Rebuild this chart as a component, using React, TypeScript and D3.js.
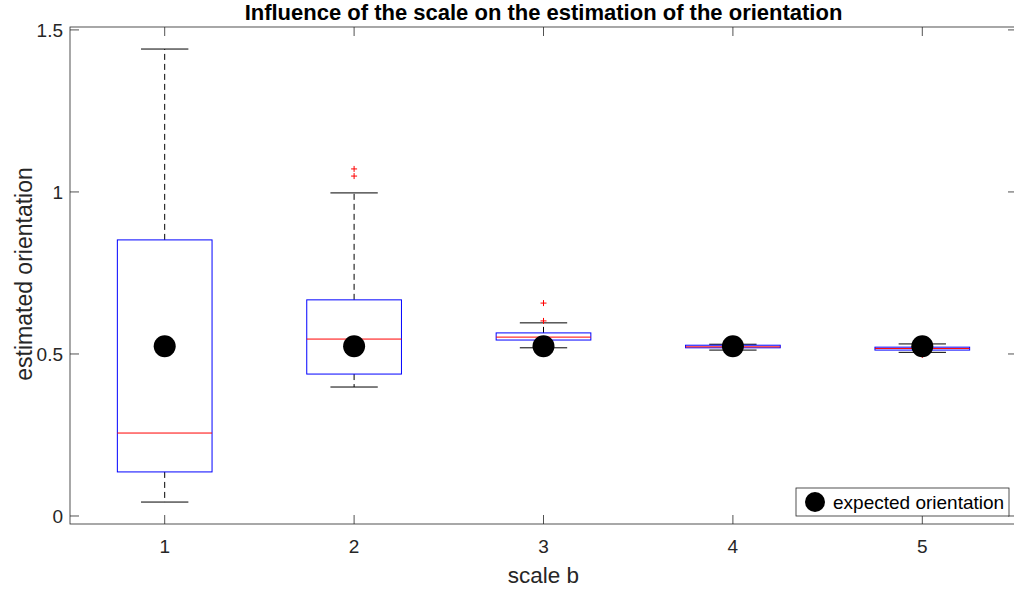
import React from "react";
import * as d3 from "d3";

const categories = [1, 2, 3, 4, 5];
const q1 = [0.136, 0.438, 0.543, 0.519, 0.512];
const medians = [0.256, 0.546, 0.552, 0.522, 0.517];
const q3 = [0.852, 0.667, 0.565, 0.527, 0.521];
const whiskerLow = [0.043, 0.398, 0.519, 0.512, 0.505];
const whiskerHigh = [1.441, 0.997, 0.596, 0.53, 0.531];
const outliers: number[][] = [[], [1.049, 1.071], [0.602, 0.657], [], [0.497]];
const expected = [0.5236, 0.5236, 0.5236, 0.5236, 0.5236];
const yTicks = [0, 0.5, 1, 1.5];
const yTickLabels = ["0", "0.5", "1", "1.5"];

const W = 1014;
const H = 592;
const left = 70;
const right = 1017;
const top = 27;
const bottom = 524;

export default function App() {
  const x = d3.scaleLinear().domain([0.5, 5.5]).range([left, right]);
  const y = d3.scaleLinear().domain([-0.0247, 1.509]).range([bottom, top]);
  const axisColor = "#262626";
  const font = "'Liberation Sans', Arial, Helvetica, sans-serif";
  const bw = x(1.25) - x(1); // half box width
  const cw = x(1.125) - x(1); // half cap width
  const tick = 9;
  return (
    <svg width={W} height={H} style={{ position: "absolute", left: 0, top: 0, background: "#fff" }}>
      <rect x={0} y={0} width={W} height={H} fill="#fff" />
      {categories.map((c, i) => {
        const cx = x(c);
        return (
          <g key={c}>
            <line x1={cx} x2={cx} y1={y(q3[i])} y2={y(whiskerHigh[i])} stroke="#000" strokeDasharray="6,4" strokeWidth={1} />
            <line x1={cx} x2={cx} y1={y(q1[i])} y2={y(whiskerLow[i])} stroke="#000" strokeDasharray="6,4" strokeWidth={1} />
            <line x1={cx - cw} x2={cx + cw} y1={y(whiskerHigh[i])} y2={y(whiskerHigh[i])} stroke="#000" strokeWidth={1} />
            <line x1={cx - cw} x2={cx + cw} y1={y(whiskerLow[i])} y2={y(whiskerLow[i])} stroke="#000" strokeWidth={1} />
            <rect x={cx - bw} y={y(q3[i])} width={2 * bw} height={y(q1[i]) - y(q3[i])} fill="none" stroke="#0000ff" strokeWidth={1} />
            <line x1={cx - bw} x2={cx + bw} y1={y(medians[i])} y2={y(medians[i])} stroke="#ff0000" strokeWidth={1} />
            {outliers[i].map((o, j) => (
              <g key={j} stroke="#ff0000" strokeWidth={1}>
                <line x1={cx - 3} x2={cx + 3} y1={y(o)} y2={y(o)} />
                <line x1={cx} x2={cx} y1={y(o) - 3} y2={y(o) + 3} />
              </g>
            ))}
          </g>
        );
      })}
      {categories.map((c, i) => (
        <circle key={c} cx={x(c)} cy={y(expected[i])} r={11} fill="#000" />
      ))}
      <rect x={left} y={top} width={right - left} height={bottom - top} fill="none" stroke={axisColor} strokeWidth={0.8} />
      {yTicks.map((t, i) => (
        <g key={t}>
          <line x1={left} x2={left + tick} y1={y(t)} y2={y(t)} stroke={axisColor} strokeWidth={0.8} />
          <line x1={right - tick} x2={right} y1={y(t)} y2={y(t)} stroke={axisColor} strokeWidth={0.8} />
          <text x={left - 7} y={y(t)} dy="0.36em" textAnchor="end" fontFamily={font} fontSize={19} fill={axisColor}>
            {yTickLabels[i]}
          </text>
        </g>
      ))}
      {categories.map((c) => (
        <g key={c}>
          <line x1={x(c)} x2={x(c)} y1={bottom} y2={bottom - tick} stroke={axisColor} strokeWidth={0.8} />
          <line x1={x(c)} x2={x(c)} y1={top} y2={top + tick} stroke={axisColor} strokeWidth={0.8} />
          <text x={x(c)} y={553} textAnchor="middle" fontFamily={font} fontSize={19} fill={axisColor}>
            {c}
          </text>
        </g>
      ))}
      <text x={(left + right) / 2} y={20} textAnchor="middle" fontFamily={font} fontSize={22} fontWeight="bold" fill="#000">
        Influence of the scale on the estimation of the orientation
      </text>
      <text x={(left + right) / 2} y={583} textAnchor="middle" fontFamily={font} fontSize={22.5} fill={axisColor}>
        scale b
      </text>
      <text transform={`translate(32, 274) rotate(-90)`} textAnchor="middle" fontFamily={font} fontSize={23} fill={axisColor}>
        estimated orientation
      </text>
      <rect x={796} y={488} width={213} height={28} fill="#fff" stroke={axisColor} strokeWidth={0.8} />
      <circle cx={815} cy={502} r={10} fill="#000" />
      <text x={833} y={502} dy="0.36em" fontFamily={font} fontSize={19} fill="#000">
        expected orientation
      </text>
    </svg>
  );
}
